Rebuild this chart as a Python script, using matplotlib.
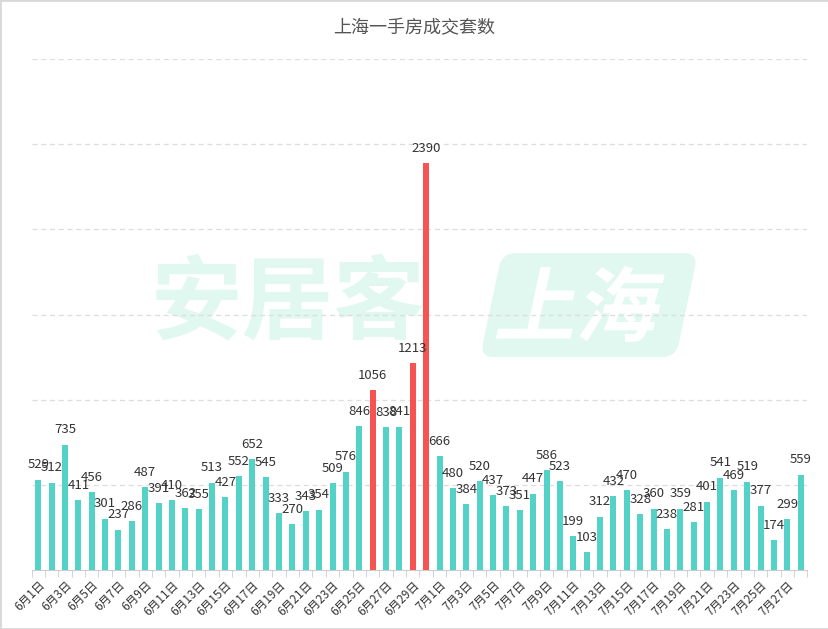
import numpy as np
import matplotlib
matplotlib.use("Agg")
import matplotlib.pyplot as plt
from matplotlib.patches import FancyBboxPatch, Rectangle, PathPatch
from matplotlib.textpath import TextPath
from matplotlib.font_manager import FontProperties
from matplotlib.transforms import Affine2D

plt.rcParams['font.family'] = ['Noto Sans CJK SC', 'DejaVu Sans']

# daily counts, 6/1 .. 7/28
june = [529, 512, 735, 411, 456, 301, 237, 286, 487, 391,
        410, 362, 355, 513, 427, 552, 652, 545, 333, 270,
        343, 354, 509, 576, 846, 1056, 838, 841, 1213, 2390]
july = [666, 480, 384, 520, 437, 373, 351, 447, 586, 523,
        199, 103, 312, 432, 470, 328, 360, 238, 359, 281,
        401, 541, 469, 519, 377, 174, 299, 559]
dates = ["6月%d日" % d for d in range(1, 31)] + ["7月%d日" % d for d in range(1, 29)]
values = june + july
highlight = ["6月26日", "6月29日", "6月30日"]

teal = "#55d2c7"
red = "#f65353"
mint = "#e0f8f0"

fig = plt.figure(figsize=(8.29, 6.29), dpi=100)
ax = fig.add_axes([0.038, 0.094, 0.936, 0.812])
ax.set_facecolor("none")

# watermark behind the chart (pixel coords, origin bottom-left)
fig.text(0.347, 0.514, "安居客", fontsize=66, fontweight="bold", color=mint,
         ha="center", va="center", zorder=-2)
cx, cy = 586, 324
skew = Affine2D().translate(-cx, -cy).skew_deg(12, 0).translate(cx, cy)
box = FancyBboxPatch((491, 272), 196, 104, boxstyle="round,pad=0,rounding_size=14",
                     transform=skew, facecolor=mint, edgecolor="none", zorder=-3)
fig.patches.append(box)
fp = FontProperties(family="Noto Sans CJK SC", weight="bold")
tp = TextPath((0, 0), "上海", size=1, prop=fp)
ext = tp.get_extents()
sc = 76 / ext.height
place = Affine2D().translate(-ext.x0, -ext.y0).scale(sc).translate(503, 287)
fig.patches.append(PathPatch(tp, transform=place + skew, facecolor="white",
                             edgecolor="none", zorder=-2))

x = np.arange(len(values))
colors = [red if d in highlight else teal for d in dates]
ax.bar(x, values, width=0.45, color=colors, zorder=3)

for xi, v in zip(x, values):
    ax.annotate(str(v), (xi, v), xytext=(0, 6), textcoords="offset points",
                ha="center", va="bottom", fontsize=9.5, color="#333333", zorder=4)

ax.set_xlim(-0.5, len(values) - 0.5)
ax.set_ylim(0, 3000)
ax.set_yticks(np.arange(500, 3001, 500))
ax.yaxis.grid(True, linestyle=(0, (4, 3)), color="#dddddd", linewidth=0.9, zorder=0)
ax.tick_params(axis="y", length=0, labelleft=False)

ax.set_xticks(x[::2])
ax.set_xticklabels(dates[::2], rotation=45, ha="right", rotation_mode="anchor",
                   fontsize=8.5, color="#333333")
ax.set_xticks(np.arange(-0.5, len(values), 1), minor=True)
ax.tick_params(axis="x", which="major", length=0, pad=6)
ax.tick_params(axis="x", which="minor", length=5, color="#cccccc")

for s in ["top", "right", "left"]:
    ax.spines[s].set_visible(False)
ax.spines["bottom"].set_color("#cccccc")

fig.text(0.5, 0.955, "上海一手房成交套数", ha="center", va="center",
         fontsize=13, color="#555555")

# thin frame like the screenshot
fig.patches.append(Rectangle((0, 0), 1, 1, transform=fig.transFigure, fill=False,
                             edgecolor="#d8d8d8", linewidth=2))

fig.savefig("out.png", dpi=100)
